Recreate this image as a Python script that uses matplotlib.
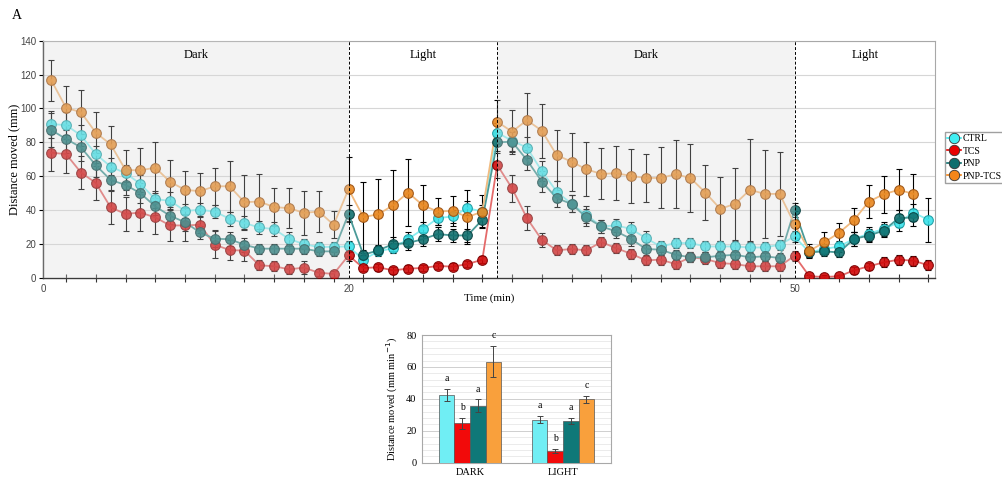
import numpy as np
import matplotlib.pyplot as plt
from matplotlib.lines import Line2D

plt.rcParams['font.family'] = 'Liberation Serif'

# time course, one value per minute (0..59)
minutes = np.arange(60)

ctrl = [90.8, 90.2, 84.1, 73.1, 65.7, 61.8, 55.5, 46.5, 45.5, 39.6, 40.2, 39.2, 34.9, 32.4, 29.8,
        28.8, 23.0, 20.0, 18.2, 18.4, 18.6,
        10.8, 15.7, 17.6, 22.9, 28.8, 35.3, 36.3, 41.2, 39.2, 85.7, 81.0, 76.9, 63.1, 51.0,
        43.7, 37.3, 30.4, 31.0, 29.0, 23.5,
        18.6, 20.6, 20.6, 18.6, 18.6, 18.6, 18.0, 18.0, 19.6, 24.5, 15.1, 17.1, 18.6, 23.1,
        26.1, 29.0, 32.7, 38.6, 34.3]
ctrl_err = [8, 8, 6, 5, 5, 5, 5, 5, 5, 4, 4, 4, 4, 4, 4, 4, 4, 3, 3, 3, 3,
            3, 3, 3, 4, 4, 4, 4, 4, 4, 6, 6, 6, 6, 6, 5, 5, 4, 4, 4, 4,
            3, 3, 3, 3, 3, 3, 3, 3, 3, 3, 3, 3, 3, 4, 4, 4, 5, 5, 13]

tcs = [73.9, 73.1, 62.2, 56.1, 41.6, 37.8, 38.6, 35.7, 31.0, 31.0, 31.4, 19.6, 16.5, 16.1, 7.5,
       6.9, 5.1, 6.1, 3.1, 2.4, 13.3,
       5.9, 6.3, 4.5, 5.5, 5.9, 7.1, 6.7, 8.2, 10.8, 66.7, 52.9, 35.3, 22.5, 16.3, 17.1,
       16.3, 21.2, 17.6, 14.3, 10.4,
       10.8, 8.2, 12.2, 11.2, 8.8, 8.2, 6.9, 6.9, 6.9, 13.1, 1.0, 0.6, 1.0, 4.5, 6.9, 9.2,
       10.8, 10.2, 7.5]
tcs_err = [11, 11, 10, 10, 10, 10, 11, 10, 9, 9, 5, 8, 6, 6, 3, 3, 3, 4, 2, 2, 3,
           2, 2, 2, 2, 2, 2, 2, 2, 2, 8, 8, 7, 4, 3, 3, 3, 3, 3, 3, 3,
           3, 3, 3, 3, 3, 3, 3, 3, 3, 3, 1, 1, 1, 2, 2, 3, 3, 3, 3]

pnp = [87.3, 82.0, 77.1, 66.5, 57.8, 54.9, 50.0, 42.2, 36.7, 32.9, 26.9, 23.1, 22.9, 19.6, 17.3,
       17.3, 17.3, 17.3, 15.7, 15.7, 37.8,
       13.7, 16.3, 20.0, 20.6, 22.9, 25.9, 25.1, 25.1, 34.3, 80.0, 80.4, 69.6, 56.9, 47.1,
       43.7, 35.7, 30.4, 27.5, 23.1, 17.1,
       16.7, 13.7, 12.2, 12.2, 13.1, 13.7, 12.2, 12.8, 11.8, 40.2, 15.1, 15.7, 15.1, 23.1,
       25.0, 28.0, 35.3, 35.7]
pnp_err = [10, 8, 8, 7, 6, 6, 6, 5, 5, 5, 4, 5, 4, 4, 3, 3, 3, 3, 3, 3, 5,
           3, 3, 4, 4, 4, 4, 4, 4, 4, 6, 6, 6, 6, 5, 5, 5, 4, 4, 4, 4,
           3, 3, 3, 3, 3, 3, 3, 3, 3, 4, 3, 3, 3, 4, 4, 4, 5, 5]

pnp_tcs = [116.7, 100.4, 97.8, 85.7, 78.8, 63.7, 63.5, 65.1, 56.7, 52.0, 51.2, 54.1, 54.1, 44.7,
           45.1, 41.8, 41.2, 38.4, 39.2, 31.4, 52.4,
           35.9, 37.6, 42.9, 50.4, 42.9, 39.2, 39.6, 35.9, 39.2, 92.2, 86.3, 93.1, 86.9, 72.5,
           68.6, 64.1, 61.4, 61.8, 60.2, 59.0,
           59.0, 61.2, 59.0, 50.4, 40.8, 43.7, 52.0, 49.6, 49.6, 31.8, 16.0, 21.0, 26.7, 34.1,
           45.1, 49.4, 52.0, 49.6]
pnp_tcs_err = [12, 13, 13, 12, 11, 12, 13, 15, 13, 11, 11, 11, 15, 16, 16, 11, 12, 13, 12, 8, 19,
               21, 21, 21, 20, 12, 8, 9, 16, 10, 13, 13, 16, 16, 15, 17, 16, 15, 16, 16, 14,
               18, 20, 20, 16, 19, 21, 30, 26, 25, 8, 4, 6, 6, 7, 10, 11, 12, 12]

groups = ['CTRL', 'TCS', 'PNP', 'PNP-TCS']
periods = [('Dark', -0.55, 20), ('Light', 20, 30), ('Dark', 30, 50), ('Light', 50, 59.45)]

# summary bars
bar_cats = ['DARK', 'LIGHT']
bar_means = {'CTRL': [42.5, 27.0], 'TCS': [24.6, 7.5], 'PNP': [35.8, 26.0], 'PNP-TCS': [63.4, 39.8]}
bar_errs = {'CTRL': [3.8, 2.1], 'TCS': [3.4, 1.2], 'PNP': [3.8, 1.8], 'PNP-TCS': [10.0, 2.3]}
bar_letters = {'CTRL': ['a', 'a'], 'TCS': ['b', 'b'], 'PNP': ['a', 'a'], 'PNP-TCS': ['c', 'c']}

# styles
mark_col = {'CTRL': '#38e2ea', 'TCS': '#d10a0a', 'PNP': '#11706f', 'PNP-TCS': '#e8861e'}
edge_col = {'CTRL': '#1a9aa0', 'TCS': '#7a0000', 'PNP': '#0a4040', 'PNP-TCS': '#9a5010'}
line_col = {'CTRL': '#8ceff2', 'TCS': '#e46a6a', 'PNP': '#4a9a98', 'PNP-TCS': '#f2bb80'}
leg_col = {'CTRL': '#40eef2', 'TCS': '#e80000', 'PNP': '#0e6e6e', 'PNP-TCS': '#f5861a'}
bar_col = {'CTRL': '#70eef4', 'TCS': '#f20a0a', 'PNP': '#0f7878', 'PNP-TCS': '#f9a03c'}

series = {'CTRL': (ctrl, ctrl_err), 'TCS': (tcs, tcs_err),
          'PNP': (pnp, pnp_err), 'PNP-TCS': (pnp_tcs, pnp_tcs_err)}

fig = plt.figure(figsize=(10.03, 4.87), dpi=100)

# ---- panel A: time course
ax = fig.add_axes([0.0429, 0.4292, 0.8893, 0.4873])
ax.set_xlim(-0.55, 59.45)
ax.set_ylim(0, 140)

for g in groups:
    y, e = series[g]
    x = minutes[:len(y)]
    ax.errorbar(x, y, yerr=e, fmt='none', ecolor='black', elinewidth=0.8,
                capsize=2, capthick=0.8, zorder=2)
    ax.plot(x, y, '-', color=line_col[g], lw=1.3, zorder=2.5)
    ax.plot(x, y, 'o', ms=7, mfc=mark_col[g], mec=edge_col[g], mew=0.8,
            alpha=0.9, zorder=3)

# dark periods: translucent grey layer over the data
for name, a, b in periods:
    if name == 'Dark':
        ax.axvspan(a, b, color='#d8d8d8', alpha=0.3, lw=0, zorder=4)
    ax.text((a + b) / 2, 131.5, name, ha='center', va='center', fontsize=9, zorder=6)

for xv in [20, 30, 50]:
    ax.axvline(xv, color='black', ls=(0, (3, 2)), lw=0.7, zorder=5)

ax.set_yticks(np.arange(0, 141, 20))
ax.yaxis.grid(True, color='#d6d6d6', lw=0.8, zorder=0)
ax.set_axisbelow(True)
ax.set_xticks([-0.55, 20, 50])
ax.set_xticklabels(['0', '20', '50'])
ax.set_xticks(np.arange(1, 60, 2), minor=True)
ax.tick_params(axis='x', which='major', length=0, pad=4, labelsize=7, labelcolor='#444444')
ax.tick_params(axis='x', which='minor', direction='inout', length=6, width=0.8, color='#333333')
ax.tick_params(axis='y', length=3, width=0.8, pad=2, labelsize=7, labelcolor='#444444')
for lab in ax.get_xticklabels() + ax.get_yticklabels():
    lab.set_fontfamily('Liberation Sans')
for s in ['top', 'right']:
    ax.spines[s].set_color('#a8a8a8')
    ax.spines[s].set_linewidth(0.8)
for s in ['left', 'bottom']:
    ax.spines[s].set_color('#3a3a3a')
    ax.spines[s].set_linewidth(1.0)
ax.set_ylabel('Distance moved (mm)', fontsize=9, labelpad=0)
ax.set_xlabel('Time (min)', fontsize=8, labelpad=0)

handles = [Line2D([0], [0], color=leg_col[g], lw=1.2, marker='o', ms=7.5,
                  mfc=leg_col[g], mec='#333333', mew=0.6) for g in groups]
fig.legend(handles, groups, loc='upper left', bbox_to_anchor=(0.942, 1 - 132 / 487),
           fontsize=7, frameon=True, fancybox=False, edgecolor='#888888',
           handlelength=1.4, handletextpad=0.15, labelspacing=0.35, borderpad=0.25,
           borderaxespad=0)

fig.text(0.012, 0.968, 'A', fontsize=10, ha='left', va='center')

# ---- summary bar chart
ax2 = fig.add_axes([0.4207, 0.0499, 0.1884, 0.2622])
pos = np.arange(len(bar_cats))
w = 0.168
for i, g in enumerate(groups):
    xs = pos + (i - 1.5) * w
    ax2.bar(xs, bar_means[g], width=w, color=bar_col[g], edgecolor='#555555', lw=0.5,
            yerr=bar_errs[g], error_kw=dict(ecolor='#444444', elinewidth=0.7,
                                            capsize=2.5, capthick=0.7), zorder=3)
    for xx, m, e, t in zip(xs, bar_means[g], bar_errs[g], bar_letters[g]):
        ax2.text(xx, m + e + 6.5, t, ha='center', va='center', fontsize=7)

ax2.set_xlim(-0.516, 1.516)
ax2.set_ylim(0, 80)
ax2.set_yticks(np.arange(0, 81, 20))
ax2.set_yticks(np.arange(0, 81, 4), minor=True)
ax2.yaxis.grid(True, which='major', color='#cfcfcf', lw=0.7)
ax2.yaxis.grid(True, which='minor', color='#e8e8e8', lw=0.6)
ax2.set_axisbelow(True)
ax2.set_xticks(pos)
ax2.set_xticklabels(bar_cats)
ax2.tick_params(axis='both', which='both', length=0, labelsize=7.5, pad=4)
for s in ax2.spines.values():
    s.set_color('#a8a8a8')
    s.set_linewidth(0.8)
ax2.set_ylabel('Distance moved (mm min$^{-1}$)', fontsize=7.5, labelpad=4)

fig.savefig('out.png', dpi=100)
